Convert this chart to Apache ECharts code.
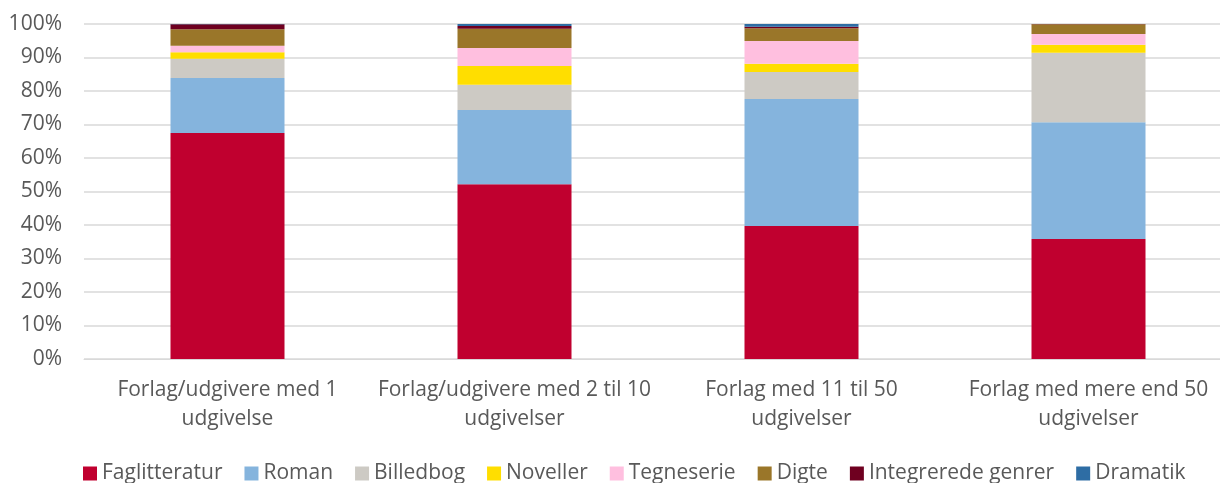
<!DOCTYPE html>
<html>
<head>
<meta charset="utf-8">
<script src="https://cdn.jsdelivr.net/npm/echarts@6/dist/echarts.min.js"></script>
<style>
  html, body { margin: 0; padding: 0; background: #fff; }
  #chart { width: 1220px; height: 483px; }
</style>
</head>
<body>
<div id="chart"></div>
<script>
const categories = [
  'Forlag/udgivere med 1\nudgivelse',
  'Forlag/udgivere med 2 til 10\nudgivelser',
  'Forlag med 11 til 50\nudgivelser',
  'Forlag med mere end 50\nudgivelser'
];
const genres = ['Faglitteratur', 'Roman', 'Billedbog', 'Noveller', 'Tegneserie', 'Digte', 'Integrerede genrer', 'Dramatik'];
const faglitteratur = [67.5, 52.2, 39.7, 35.8];
const roman = [16.4, 22.1, 37.9, 34.9];
const billedbog = [5.7, 7.6, 8.1, 20.7];
const noveller = [2.0, 5.6, 2.4, 2.4];
const tegneserie = [1.9, 5.3, 6.8, 3.2];
const digte = [4.9, 5.8, 3.8, 2.9];
const integrerede = [1.5, 0.8, 0.5, 0.1];
const dramatik = [0.1, 0.6, 0.8, 0.0];
const colors = ['#C0002F', '#85B4DD', '#CDCAC4', '#FFDE00', '#FFBFDF', '#9A7629', '#6F0020', '#2E6DA4'];

const seriesData = [faglitteratur, roman, billedbog, noveller, tegneserie, digte, integrerede, dramatik];
const font = '"Open Sans", Lato, sans-serif';

const chart = echarts.init(document.getElementById('chart'), null, { renderer: 'canvas' });
chart.setOption({
  animation: false,
  color: colors,
  grid: { left: 84, width: 1148, top: 24, height: 335, outerBoundsMode: 'none', containLabel: false },
  legend: {
    top: 458,
    left: 78,
    itemWidth: 14,
    itemHeight: 14,
    itemGap: 22,
    icon: 'rect',
    textStyle: { fontFamily: font, fontSize: 21, color: '#595959' },
    data: genres
  },
  xAxis: {
    type: 'category',
    data: categories,
    axisLine: { lineStyle: { color: '#D9D9D9' } },
    axisTick: { show: false },
    axisLabel: { interval: 0, fontFamily: font, fontSize: 21, color: '#595959', lineHeight: 29, margin: 17 }
  },
  yAxis: {
    type: 'value',
    min: 0, max: 100, interval: 10,
    axisLabel: { formatter: '{value}%', fontFamily: font, fontSize: 21, color: '#595959', margin: 22 },
    splitLine: { lineStyle: { color: '#D9D9D9', width: 1.5 } },
    axisLine: { show: false },
    axisTick: { show: false }
  },
  series: genres.map((g, i) => ({
    name: g,
    type: 'bar',
    stack: 'total',
    barWidth: 114,
    data: seriesData[i],
    itemStyle: { color: colors[i] }
  }))
});
</script>
</body>
</html>
